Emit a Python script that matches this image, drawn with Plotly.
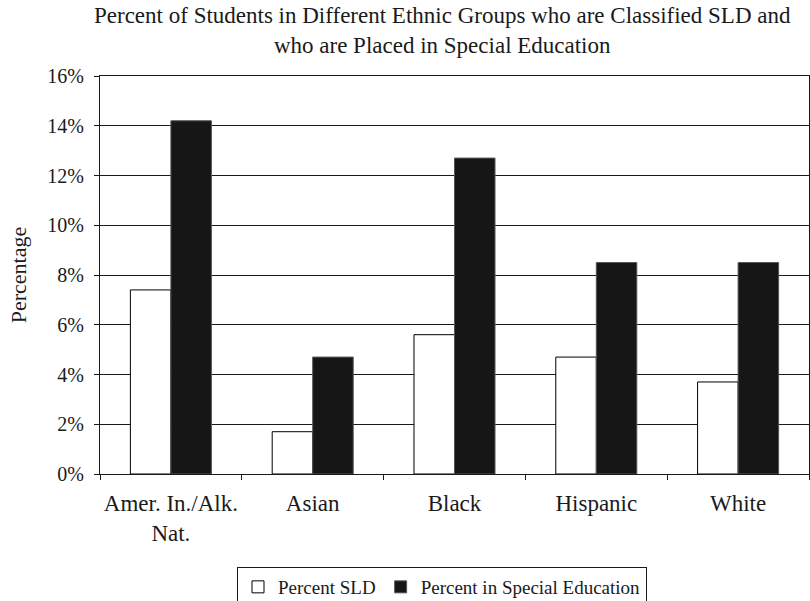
import plotly.graph_objects as go

categories = ["Amer. In./Alk.<br>Nat.", "Asian", "Black", "Hispanic", "White"]
pct_sld = [7.4, 1.7, 5.6, 4.7, 3.7]
pct_special = [14.2, 4.7, 12.7, 8.5, 8.5]
y_ticks = [0, 2, 4, 6, 8, 10, 12, 14, 16]
y_tick_text = [f"{v}%" for v in y_ticks]

FONT = "Liberation Serif, Times New Roman, Times, serif"
INK = "#1a1a1a"

fig = go.Figure()
fig.add_trace(go.Bar(
    x=categories, y=pct_sld, name="Percent SLD",
    marker=dict(color="white", line=dict(color="black", width=1)),
))
fig.add_trace(go.Bar(
    x=categories, y=pct_special, name="Percent in Special Education",
    marker=dict(color="#161616", line=dict(color="#555555", width=1)),
))

fig.add_annotation(
    text="Percent of Students in Different Ethnic Groups who are Classified SLD and<br>who are Placed in Special Education",
    xref="paper", yref="paper", x=(442-100)/709, y=(474-1)/398,
    xanchor="center", yanchor="top", showarrow=False, align="center",
    font=dict(family=FONT, size=23, color=INK),
)

fig.update_layout(
    width=810, height=601,
    margin=dict(l=100, r=1, t=76, b=127, autoexpand=False),
    paper_bgcolor="white", plot_bgcolor="white",
    font=dict(family=FONT, size=19, color=INK),
    barmode="group", bargap=0.4286, bargroupgap=0,
    showlegend=True,
    legend=dict(
        orientation="h", x=(237-100)/709, xanchor="left",
        y=(474-567)/398, yanchor="top",
        bordercolor=INK, borderwidth=1,
        font=dict(family=FONT, size=19, color=INK),
        itemwidth=30, traceorder="normal",
    ),
)
fig.update_xaxes(
    showline=True, linecolor=INK, linewidth=1, mirror=True,
    ticks="outside", ticklen=5, tickcolor=INK, tickson="boundaries",
    showgrid=False, ticklabelstandoff=8, tickangle=0,
    tickfont=dict(family=FONT, size=23, color=INK),
)
fig.update_yaxes(
    range=[0, 16], tickvals=y_ticks, ticktext=y_tick_text,
    showline=True, linecolor=INK, linewidth=1, mirror=True,
    ticks="outside", ticklen=5, tickcolor=INK,
    showgrid=True, gridcolor=INK, gridwidth=1,
    zeroline=False, ticklabelstandoff=6,
    tickfont=dict(family=FONT, size=20, color=INK),
    title=dict(text="Percentage", standoff=14, font=dict(family=FONT, size=22, color=INK)),
)

fig.write_html("out.html")
